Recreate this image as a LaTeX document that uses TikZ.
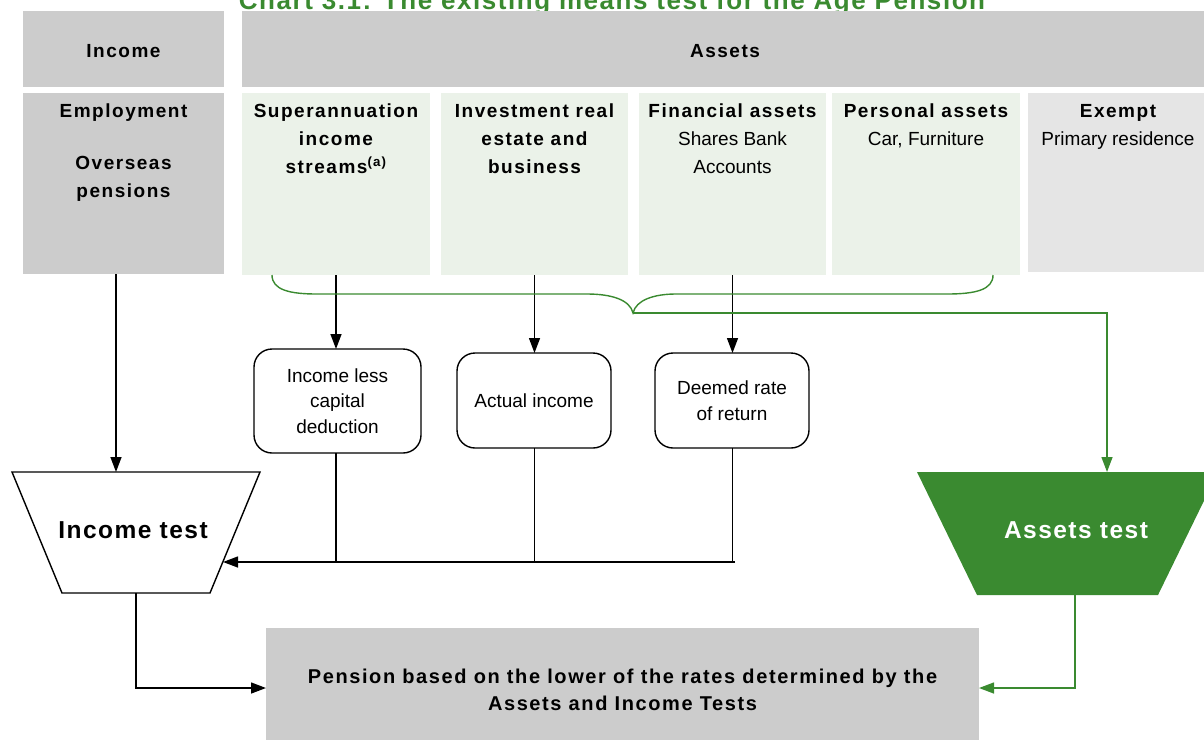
\documentclass[tikz,border=0pt]{standalone}
\usepackage{fontspec}
\setmainfont{Liberation Sans}
\usetikzlibrary{arrows.meta,fit}
\definecolor{hdrgray}{HTML}{CCCCCC}
\definecolor{lgreen}{HTML}{EBF2E9}
\definecolor{lgray}{HTML}{E5E5E5}
\definecolor{dgreen}{HTML}{3A8A30}
\newcommand\bsp{\bfseries\addfontfeature{LetterSpace=8}}
\newcommand\tp{\rule{0pt}{14pt}}
\begin{document}
\begin{tikzpicture}[x=1pt,y=-1pt,
  every node/.style={inner sep=0pt,outer sep=0pt},
  cellbox/.style={inner sep=0pt,draw=none},
  lbl/.style={font=\fontsize{19}{28}\selectfont, align=center, anchor=north},
  blbl/.style={font=\fontsize{19}{28}\selectfont\bsp, align=center, anchor=north},
  hlbl/.style={font=\fontsize{19}{28}\selectfont\bsp},
  rbox/.style={draw=black, line width=1.4pt, rounded corners=18pt, inner sep=0pt},
  rlbl/.style={font=\fontsize{19}{25.5}\selectfont, align=center},
  conn/.style={line width=1.4pt, black},
  gconn/.style={line width=1.4pt, dgreen},
  tip/.style={-{Triangle[length=15pt,width=11pt]}},
  bigt/.style={font=\fontsize{24.5}{28}\selectfont\bfseries\addfontfeature{LetterSpace=6}},
]
\useasboundingbox (0,0) rectangle (1204,742);
\clip (0,0) rectangle (1204,742);

% title (cut off at top)
\node[font=\fontsize{26}{28}\selectfont\bfseries\addfontfeature{LetterSpace=6}, text=dgreen, anchor=base] (title) at (612,9) {Chart 3.1: The existing means test for the Age Pension};

% header row
\node[cellbox, fill=hdrgray, fit={(23,11) (224,87)}] (inchdr) {};
\node[hlbl] (inchdrl) at (123.5,51) {Income};
\node[cellbox, fill=hdrgray, fit={(242,11) (1210,87)}] (asshdr) {};
\node[hlbl] (asshdrl) at (725,51) {Assets};

% second row
\node[cellbox, fill=hdrgray, fit={(23,93) (224,274)}] (emp) {};
\node[blbl] (empl) at (123.5,103) {\tp Employment\\[24pt]Overseas\\pensions};
\node[cellbox, fill=lgreen, fit={(242,93) (430,275)}] (super) {};
\node[blbl] (superl) at (336,103) {\tp Superannuation\\income\\streams\textsuperscript{(a)}};
\node[cellbox, fill=lgreen, fit={(441,93) (628,275)}] (invest) {};
\node[blbl] (investl) at (534.5,103) {\tp Investment real\\estate and\\business};
\node[cellbox, fill=lgreen, fit={(639,93) (826,275)}] (fin) {};
\node[lbl] (finl) at (732.5,103) {\tp{\bsp Financial assets}\\Shares Bank\\Accounts};
\node[cellbox, fill=lgreen, fit={(832,93) (1020,275)}] (pers) {};
\node[lbl] (persl) at (926,103) {\tp{\bsp Personal assets}\\Car, Furniture};
\node[cellbox, fill=lgray, fit={(1028,93) (1210,272)}] (exempt) {};
\node[lbl] (exemptl) at (1118,103) {\tp{\bsp Exempt}\\Primary residence};

% rounded boxes
\node[rbox, fit={(254,349) (421,453)}] (r1) {};
\node[rlbl] (r1l) at (r1.center) {Income less\\capital\\deduction};
\node[rbox, fit={(457,353) (611,448)}] (r2) {};
\node[rlbl] (r2l) at (r2.center) {Actual income};
\node[rbox, fit={(655,353) (809,448)}] (r3) {};
\node[rlbl] (r3l) at (r3.center) {Deemed rate\\of return};

% income test trapezoid
\draw[conn, fill=white] (12,472) -- (260,472) -- (210,593) -- (62,593) -- cycle;
\node[bigt] (itl) at (133,530) {Income test};
\coordinate (itTop) at (116,472);
\coordinate (itR) at (223,562);
\coordinate (itB) at (136,593);

% assets test trapezoid
\fill[dgreen] (917,472) -- (1218,472) -- (1158,595) -- (977,595) -- cycle;
\node[bigt, text=white] (atl) at (1076,530) {Assets test};
\coordinate (atTop) at (1107,472);
\coordinate (atB) at (1075,595);

% pension box
\node[cellbox, fill=hdrgray, fit={(266,628) (979,740)}] (pens) {};
\node[font=\fontsize{20}{27}\selectfont\bsp, align=center, anchor=north] (pensl) at (622.5,669) {\tp Pension based on the lower of the rates determined by the\\Assets and Income Tests};

% black connectors
\coordinate (jy) at (0,562);
\draw[conn,tip] (emp.south -| itTop) -- (itTop);
\draw[conn,tip] (super.south) -- (super.south |- r1.north);
\draw[conn,tip] (invest.south) -- (invest.south |- r2.north);
\draw[conn,tip] (fin.south) -- (fin.south |- r3.north);
\draw[conn] (super.south |- r1.south) -- (super.south |- jy);
\draw[conn] (invest.south |- r2.south) -- (invest.south |- jy);
\draw[conn] (fin.south |- r3.south) -- (fin.south |- jy);
\coordinate (j3) at (735,562);
\draw[conn,tip] (j3) -- (itR);
\draw[conn,tip] (itB) |- ([yshift=-4pt]pens.west);

% green brace and connectors
\draw[gconn] (272,275) .. controls (272,290) and (290,294) .. (317,294) -- (587,294)
  .. controls (612,294) and (630,300) .. (633,313) coordinate (btip)
  .. controls (636,300) and (654,294) .. (676,294) -- (947,294)
  .. controls (975,294) and (993,290) .. (993,275);
\draw[gconn,tip] (btip) -| (atTop);
\draw[gconn,tip] (atB) |- ([yshift=-4pt]pens.east);
\end{tikzpicture}
\end{document}
